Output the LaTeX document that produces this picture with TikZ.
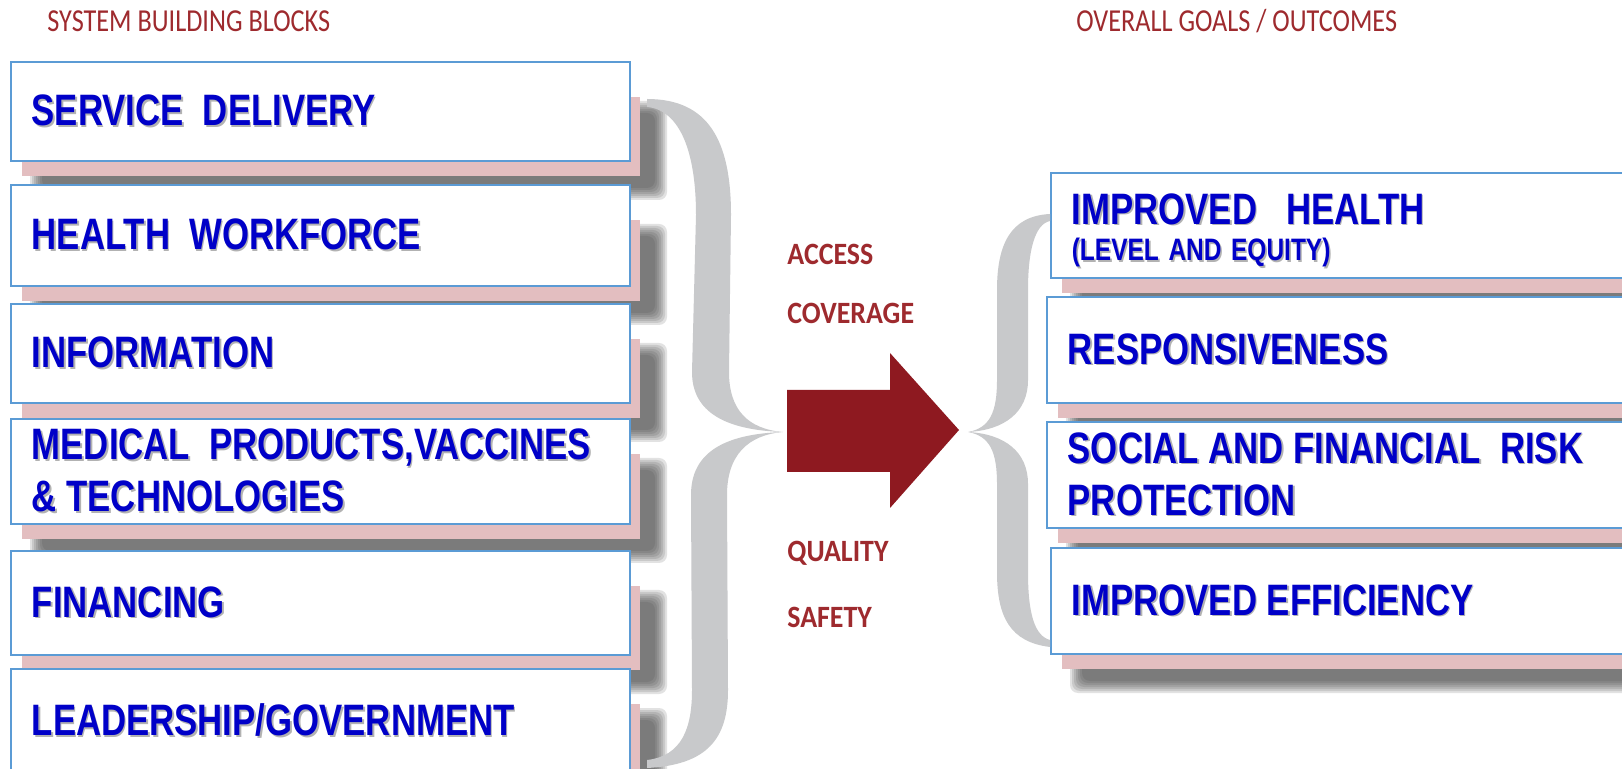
\documentclass[tikz,border=0pt]{standalone}
\usepackage{fontspec}
\newfontfamily\blockfont{Liberation Sans}[FakeStretch=0.79]
\newfontfamily\headfont{Carlito}[FakeStretch=0.9]
\newfontfamily\titlefont{Carlito}[FakeStretch=0.82]
\definecolor{boxblue}{RGB}{91,155,213}
\definecolor{textblue}{RGB}{0,0,200}
\definecolor{shadowpink}{RGB}{227,190,192}
\definecolor{headred}{RGB}{158,42,46}
\definecolor{arrowred}{RGB}{142,25,32}
\definecolor{bracegrey}{RGB}{200,201,203}
\newcommand\shtxt[1]{\leavevmode\rlap{\kern0.8pt\raisebox{-0.8pt}{\textcolor{black!30}{#1}}}#1}
\newcommand\wgap{\hspace{4.8pt}}

\begin{document}
\begin{tikzpicture}[x=0.5pt, y=-0.5pt]
%------------------------------------------------------------------------------------------------
% Styles

    \tikzset{block/.style={draw=boxblue, line width=0.8pt, fill=white, anchor=north west,
            inner xsep=10.5pt, inner ysep=0pt, align=left, text=textblue,
            font=\blockfont\bfseries\fontsize{22}{26}\selectfont},
        leftblock/.style={block, text width=288.5pt},
        rightblock/.style={block, text width=279pt},
        head/.style={anchor=base west, inner sep=0pt, text=headred,
            font=\titlefont\fontsize{16}{18}\selectfont},
        flow/.style={anchor=base west, inner sep=0pt, text=headred,
            font=\headfont\bfseries\fontsize{15.5}{18}\selectfont}
    }
    \path[use as bounding box] (0,0) rectangle (1622,769);
    \clip (0,0) rectangle (1622,769);
    \fill[white] (0,0) rectangle (1622,769);
%------------------------------------------------------------------------------------------------
% left blocks
    \foreach \nm/\ya/\yb/\txt in {
        serv/61/160/{\shtxt{SERVICE\wgap\wgap DELIVERY}},
        work/184/285/{\shtxt{HEALTH\wgap\wgap WORKFORCE}},
        info/303/402/{\shtxt{INFORMATION}},
        med/418/523/{\shtxt{MEDICAL\wgap\wgap PRODUCTS,VACCINES}\\\shtxt{\&\wgap TECHNOLOGIES}},
        fin/550/654/{\shtxt{FINANCING}},
        lead/668/772/{\shtxt{LEADERSHIP/GOVERNMENT}}} {
        \pgfmathsetmacro{\hgt}{(\yb-\ya)/2}
        \foreach \k in {0,...,6}
            \fill[black!75, opacity=0.15, rounded corners=4pt]
                ({30+2*\k},{\ya+40+2*\k}) rectangle ({667-2*\k},{\yb+40-2*\k});
        \fill[shadowpink] (22,{\ya+36}) rectangle (640,{\yb+16});
        \node[leftblock, minimum height=\hgt pt] (L-\nm) at (10,\ya) {\txt};
    }
% right blocks
    \foreach \nm/\xa/\ya/\yb/\txt in {
        hlth/1050/172/277/{\shtxt{IMPROVED\wgap\wgap\wgap HEALTH}\rule{0pt}{25pt}\\\raisebox{7.9pt}{\fontsize{15.5}{18.5}\selectfont\shtxt{(LEVEL\wgap AND\wgap EQUITY)}}},
        resp/1046/296/402/{\shtxt{RESPONSIVENESS}},
        risk/1046/421/527/{\shtxt{SOCIAL\wgap AND\wgap FINANCIAL\wgap\wgap RISK}\\\shtxt{PROTECTION}},
        effc/1050/547/653/{\shtxt{IMPROVED\wgap EFFICIENCY}}} {
        \pgfmathsetmacro{\hgt}{(\yb-\ya)/2}
        \foreach \k in {0,...,6}
            \fill[black!75, opacity=0.15, rounded corners=4pt]
                ({\xa+20+2*\k},{\ya+40+2*\k}) rectangle (1680,{\yb+40-2*\k});
        \fill[shadowpink] ({\xa+12},{\ya+36}) rectangle (1680,{\yb+16});
        \node[rightblock, minimum height=\hgt pt] (R-\nm) at (\xa,\ya) {\txt};
    }
%------------------------------------------------------------------------------------------------
% braces and arrow
    \fill[bracegrey] (647,99) .. controls (708,99) and (731,140) .. (731,215)
        -- (729,372) .. controls (729,410) and (748,429) .. (783,432)
        .. controls (748,435) and (727,455) .. (727,495)
        -- (728,690) .. controls (728,738) and (708,765) .. (647,768)
        -- (647,760) .. controls (682,756) and (692,728) .. (692,690)
        -- (691,495) .. controls (691,452) and (725,434) .. (783,432)
        .. controls (725,430) and (692,412) .. (692,372)
        -- (696,215) .. controls (696,152) and (680,110) .. (647,107) -- cycle;
    \fill[bracegrey] (1050,214) .. controls (1010,216) and (997,245) .. (997,290)
        -- (997,380) .. controls (997,412) and (990,428) .. (968,432)
        .. controls (990,436) and (997,452) .. (997,484)
        -- (997,572) .. controls (997,617) and (1010,642) .. (1050,647)
        -- (1050,640) .. controls (1035,636) and (1028,615) .. (1028,572)
        -- (1028,484) .. controls (1028,452) and (1005,434) .. (968,432)
        .. controls (1005,430) and (1028,412) .. (1028,380)
        -- (1028,290) .. controls (1028,250) and (1035,224) .. (1050,221) -- cycle;
    \fill[arrowred] (787,390) -- (890,390) -- (890,353) -- (959,430)
        -- (890,508) -- (890,472) -- (787,472) -- cycle;
% labels
    \node[head] (blocks) at (47,32) {SYSTEM BUILDING BLOCKS};
    \node[head] (goals) at (1076,32) {OVERALL GOALS / OUTCOMES};
    \node[flow] (access) at (787,265) {ACCESS};
    \node[flow] (coverage) at (787,324) {COVERAGE};
    \node[flow] (quality) at (787,562) {QUALITY};
    \node[flow] (safety) at (787,627) {SAFETY};
\end{tikzpicture}
\end{document}
